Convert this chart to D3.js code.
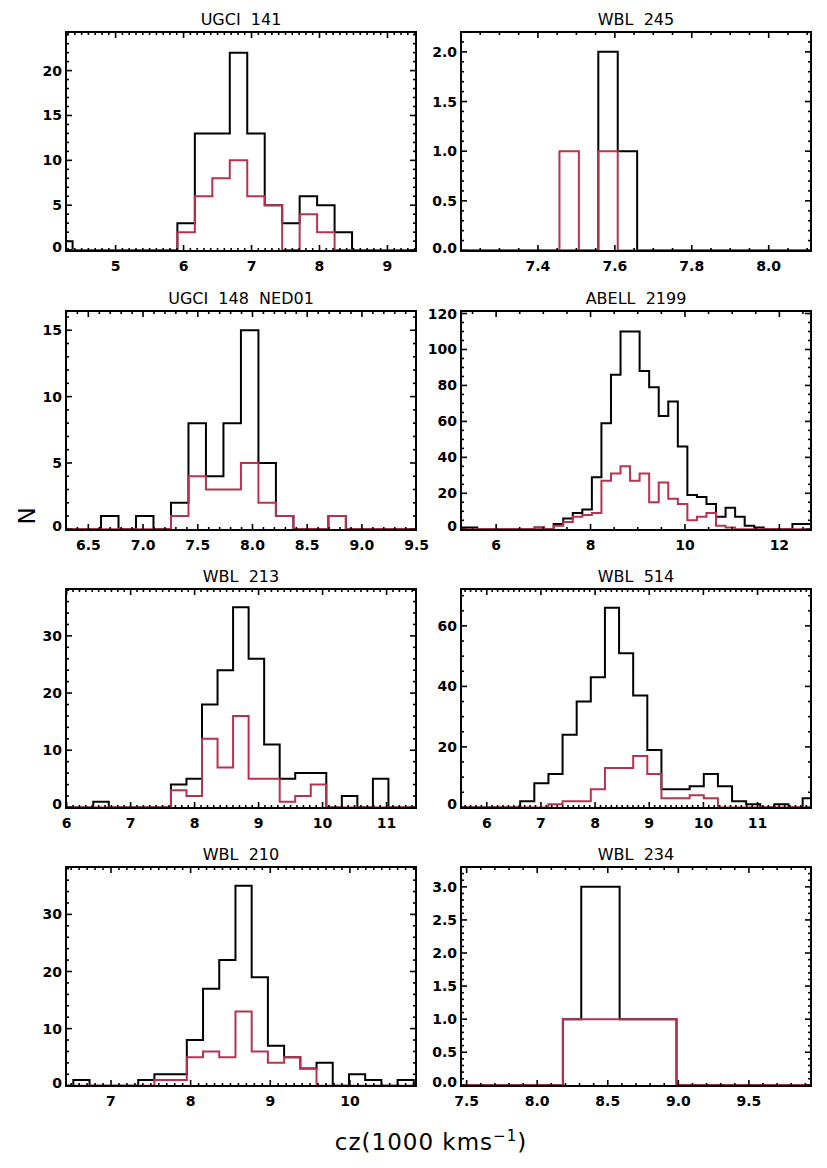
<!DOCTYPE html>
<html>
<head>
<meta charset="utf-8">
<style>
body { margin: 0; background: #fff; }
svg text { font-family: "DejaVu Sans", sans-serif; fill: #000; }
.ticklab { font-size: 14px; font-weight: bold; }
.title { font-size: 16px; white-space: pre; }
.axtitle { font-size: 23px; white-space: pre; }
</style>
</head>
<body>
<script src="https://d3js.org/d3.v7.min.js"></script>
<script>
// one entry per panel, row by row (left, right)
var titles = ["UGCI  141", "WBL  245", "UGCI  148  NED01", "ABELL  2199",
              "WBL  213", "WBL  514", "WBL  210", "WBL  234"];

var xDomains = [[4.27, 9.42], [7.20, 8.11], [6.296, 9.494], [5.256, 12.67],
                [5.99, 11.46], [5.524, 11.987], [6.435, 10.83], [7.46, 9.94]];
var yDomains = [[-0.1, 24.3], [-0.005, 2.2], [-0.05, 16.45], [-0.4, 121.4],
                [-0.1, 38.2], [-0.2, 72.2], [-0.05, 38.3], [-0.01, 3.3]];

var xTicks = [[5, 6, 7, 8, 9], [7.4, 7.6, 7.8, 8.0], [6.5, 7, 7.5, 8, 8.5, 9, 9.5], [6, 8, 10, 12],
              [6, 7, 8, 9, 10, 11], [6, 7, 8, 9, 10, 11], [7, 8, 9, 10], [7.5, 8, 8.5, 9, 9.5]];
var xMinor = [0.1, 0.05, 0.1, 0.5, 0.1, 0.1, 0.1, 0.1];
var xFormat = ["d", ".1f", ".1f", "d", "d", "d", "d", ".1f"];

var yTicks = [[0, 5, 10, 15, 20], [0, 0.5, 1, 1.5, 2], [0, 5, 10, 15], [0, 20, 40, 60, 80, 100, 120],
              [0, 10, 20, 30], [0, 20, 40, 60], [0, 10, 20, 30], [0, 0.5, 1, 1.5, 2, 2.5, 3]];
var yMinor = [1, 0.1, 1, 5, 2, 5, 2, 0.1];
var yFormat = ["d", ".1f", "d", "d", "d", "d", "d", ".1f"];

// histogram bins: first edge and width (cz in 1000 km/s)
var binStart = [4.11, 7.456, 6.616, 5.196, 6.416, 6.617, 6.527, null];
var binWidth = [0.257, 0.0505, 0.1598, 0.2023, 0.2428, 0.2608, 0.2036, null];

// all galaxies (black)
var allCounts = [
  [1, 0, 0, 0, 0, 0, 0, 3, 13, 13, 22, 13, 5, 3, 6, 5, 2],
  [0, 0, 2, 1],
  [1, 0, 1, 0, 2, 8, 4, 8, 15, 5, 1, 0, 0, 1],
  [1, 1, 0, 0, 0, 0, 0, 0, 1, 0, 3, 6, 9, 11, 29, 59, 86, 110, 110, 88, 79, 63, 71, 46,
   19, 18, 14, 7, 12, 7, 2, 1, 0, 0, 0, 3, 3],
  [1, 0, 0, 0, 0, 4, 5, 18, 24, 35, 26, 11, 5, 6, 6, 0, 2, 0, 5],
  [2, 8, 11, 24, 35, 43, 66, 51, 37, 19, 6, 6, 7, 11, 7, 2, 1, 0, 1, 0, 3],
  [1, 0, 0, 0, 1, 2, 2, 8, 17, 22, 35, 19, 7, 5, 3, 4, 0, 2, 1, 0, 1],
  [1, 3, 1]
];
// subsample (red)
var subCounts = [
  [0, 0, 0, 0, 0, 0, 0, 2, 6, 8, 10, 6, 5, 0, 4, 2, 0],
  [1, 0, 1, 0],
  [0, 0, 0, 0, 1, 4, 3, 3, 5, 2, 1, 0, 0, 1],
  [0, 0, 0, 0, 0, 0, 0, 0, 1, 0, 2, 4, 7, 8, 9, 27, 31, 35, 27, 31, 15, 26, 17, 14,
   5, 7, 9, 2, 1, 0, 0, 0, 0, 0, 0, 0, 0],
  [0, 0, 0, 0, 0, 3, 2, 12, 7, 16, 5, 5, 1, 2, 4, 0, 0, 0, 0],
  [0, 0, 1, 2, 2, 6, 13, 13, 17, 11, 3, 3, 4, 3, 0, 0, 0, 0, 0, 0, 0],
  [0, 0, 0, 0, 0, 1, 1, 5, 6, 5, 13, 6, 4, 5, 3, 0, 0, 0, 0, 0, 0],
  [1]
];
// WBL 234 uses uneven bins
var wbl234AllEdges = [8.182, 8.312, 8.584, 8.987];
var wbl234SubEdges = [8.182, 8.987];

var red = "#b8324d";

var W = 827, H = 1168;
var colX = [66, 461], rowY = [32, 311, 589, 867];
var boxW = 350, boxH = 219;

var svg = d3.select("body").append("svg")
    .attr("width", W)
    .attr("height", H);

function edgesFor(i, counts, fixed) {
    if (fixed) return fixed;
    var e = [];
    for (var k = 0; k <= counts.length; k++) e.push(binStart[i] + k * binWidth[i]);
    return e;
}

function stepPoints(edges, counts, dom) {
    var pts = [[dom[0], 0], [edges[0], 0]];
    counts.forEach(function(c, k) {
        pts.push([edges[k], c]);
        pts.push([edges[k + 1], c]);
    });
    pts.push([edges[edges.length - 1], 0]);
    pts.push([dom[1], 0]);
    return pts;
}

function minorValues(dom, step) {
    var out = [];
    var start = Math.ceil(dom[0] / step - 1e-6);
    for (var k = start; k * step <= dom[1] + 1e-9; k++) out.push(+(k * step).toFixed(6));
    return out;
}

titles.forEach(function(t, i) {
    var col = i % 2, row = Math.floor(i / 2);
    var g = svg.append("g")
        .attr("transform", "translate(" + colX[col] + "," + rowY[row] + ")");

    var x = d3.scaleLinear().domain(xDomains[i]).range([0, boxW]);
    var y = d3.scaleLinear().domain(yDomains[i]).range([boxH, 0]);

    g.append("clipPath").attr("id", "clip" + i)
      .append("rect").attr("width", boxW).attr("height", boxH);

    var line = d3.line().x(function(d) { return x(d[0]); }).y(function(d) { return y(d[1]); });

    var aEdges = edgesFor(i, allCounts[i], i === 7 ? wbl234AllEdges : null);
    var sEdges = edgesFor(i, subCounts[i], i === 7 ? wbl234SubEdges : null);

    g.append("path")
      .attr("d", line(stepPoints(aEdges, allCounts[i], xDomains[i])))
      .attr("clip-path", "url(#clip" + i + ")")
      .attr("fill", "none").attr("stroke", "#000").attr("stroke-width", 2);
    g.append("path")
      .attr("d", line(stepPoints(sEdges, subCounts[i], xDomains[i])))
      .attr("clip-path", "url(#clip" + i + ")")
      .attr("fill", "none").attr("stroke", red).attr("stroke-width", 2);

    // box
    g.append("rect")
      .attr("width", boxW).attr("height", boxH)
      .attr("fill", "none").attr("stroke", "#000").attr("stroke-width", 2);

    // inward ticks on all four sides
    var tk = g.append("g").attr("stroke", "#000").attr("stroke-width", 1.6);
    minorValues(xDomains[i], xMinor[i]).forEach(function(v) {
        var len = xTicks[i].some(function(m) { return Math.abs(m - v) < 1e-6; }) ? 6 : 3;
        tk.append("line").attr("x1", x(v)).attr("x2", x(v)).attr("y1", boxH).attr("y2", boxH - len);
        tk.append("line").attr("x1", x(v)).attr("x2", x(v)).attr("y1", 0).attr("y2", len);
    });
    minorValues(yDomains[i], yMinor[i]).forEach(function(v) {
        var len = yTicks[i].some(function(m) { return Math.abs(m - v) < 1e-6; }) ? 6 : 3;
        tk.append("line").attr("y1", y(v)).attr("y2", y(v)).attr("x1", 0).attr("x2", len);
        tk.append("line").attr("y1", y(v)).attr("y2", y(v)).attr("x1", boxW).attr("x2", boxW - len);
    });

    var fx = d3.format(xFormat[i]), fy = d3.format(yFormat[i]);
    g.selectAll(".xl").data(xTicks[i]).enter().append("text")
      .attr("class", "ticklab")
      .attr("x", function(d) { return x(d); })
      .attr("y", boxH + 20)
      .attr("text-anchor", "middle")
      .text(function(d) { return fx(d); });
    g.selectAll(".yl").data(yTicks[i]).enter().append("text")
      .attr("class", "ticklab")
      .attr("x", -4)
      .attr("y", function(d, k) { return y(d) + 5 - (k === 0 ? 3 : 0); })
      .attr("text-anchor", "end")
      .text(function(d) { return fy(d); });

    g.append("text")
      .attr("class", "title")
      .attr("x", boxW / 2)
      .attr("y", -7)
      .attr("text-anchor", "middle")
      .text(t);
});

svg.append("text")
  .attr("class", "axtitle")
  .attr("transform", "translate(35,516) rotate(-90)")
  .attr("text-anchor", "middle")
  .text("N");

var xt = svg.append("text")
  .attr("class", "axtitle")
  .attr("x", 431)
  .attr("y", 1150)
  .attr("text-anchor", "middle")
  .attr("letter-spacing", 1)
  .text("cz(1000 kms");
xt.append("tspan").attr("font-size", 15).attr("dy", -9).text("\u22121");
xt.append("tspan").attr("dy", 9).text(")");
</script>
</body>
</html>
